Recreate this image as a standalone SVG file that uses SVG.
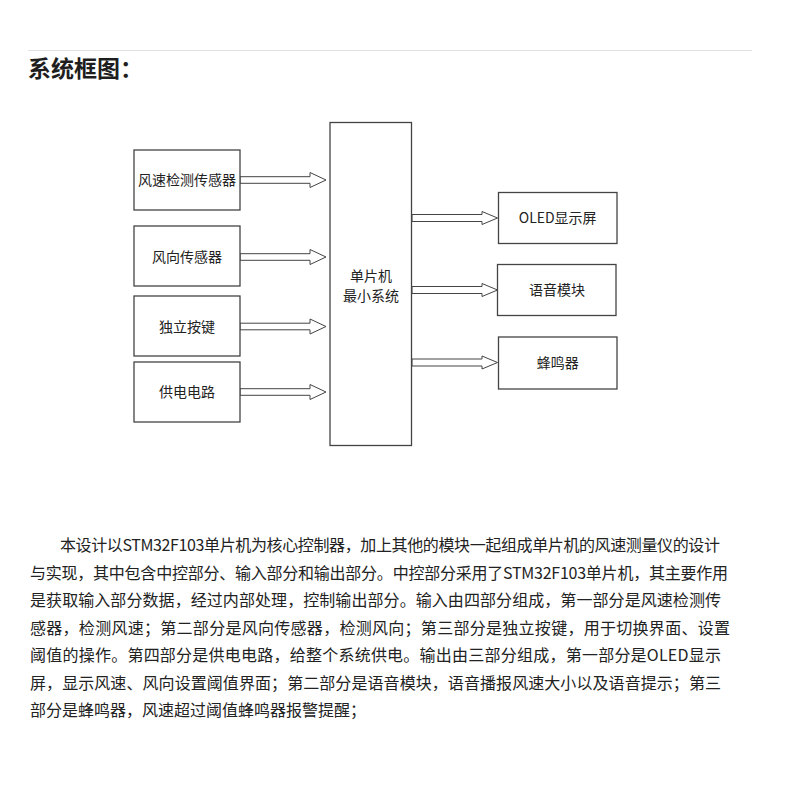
<svg xmlns="http://www.w3.org/2000/svg" width="800" height="800" viewBox="0 0 800 800">
<style>
.bg{fill:#ffffff}
.box{fill:#ffffff;stroke:#444444;stroke-width:1.3}
.lbl{font-family:"Noto Sans CJK SC","Noto Sans",sans-serif;font-size:14px;fill:#222222;text-anchor:middle}
.arr{fill:#ffffff;stroke:#444444;stroke-width:1}
.para{font-family:"Noto Sans CJK SC","Noto Sans",sans-serif;font-size:16px;fill:#222222}
.title{font-family:"Noto Sans CJK SC","Noto Sans",sans-serif;font-size:23px;font-weight:bold;fill:#1e1e1e}
</style>
<rect class="bg" x="0" y="0" width="800" height="800"/>
<line x1="28" y1="50.5" x2="752" y2="50.5" stroke="#e2e2e2" stroke-width="1"/>
<text class="title" x="28" y="77">系统框图：</text>

<g id="connectors">
  <polygon class="arr" points="240,176.7 310,176.7 310,172.5 326,180 310,187.5 310,183.3 240,183.3"/>
  <polygon class="arr" points="240,253.7 310,253.7 310,249.5 326,257 310,264.5 310,260.3 240,260.3"/>
  <polygon class="arr" points="240,323.2 310,323.2 310,319 326,326.5 310,334 310,329.8 240,329.8"/>
  <polygon class="arr" points="240,388.7 310,388.7 310,384.5 326,392 310,399.5 310,395.3 240,395.3"/>
  <polygon class="arr" points="412,214.5 482,214.5 482,211.5 497.5,218 482,224.5 482,221.5 412,221.5"/>
  <polygon class="arr" points="412,286.5 482,286.5 482,283.5 497.5,290 482,296.5 482,293.5 412,293.5"/>
  <polygon class="arr" points="412,359 482,359 482,356 497.5,362.5 482,369 482,366 412,366"/>
</g>

<g id="node-wind-speed">
  <rect class="box" x="134" y="150" width="106" height="60"/>
  <text class="lbl" x="187" y="185">风速检测传感器</text>
</g>
<g id="node-wind-dir">
  <rect class="box" x="134" y="226" width="106" height="60"/>
  <text class="lbl" x="187" y="262">风向传感器</text>
</g>
<g id="node-keys">
  <rect class="box" x="134" y="296" width="106" height="60"/>
  <text class="lbl" x="187" y="331.5">独立按键</text>
</g>
<g id="node-power">
  <rect class="box" x="134" y="362" width="106" height="60"/>
  <text class="lbl" x="187" y="397">供电电路</text>
</g>
<g id="node-mcu">
  <rect class="box" x="330" y="122.5" width="81.5" height="323"/>
  <text class="lbl" x="371" y="280.5">单片机</text>
  <text class="lbl" x="371" y="300.5">最小系统</text>
</g>
<g id="node-oled">
  <rect class="box" x="498.5" y="192.5" width="118.5" height="51"/>
  <text class="lbl" x="557.7" y="223">OLED显示屏</text>
</g>
<g id="node-voice">
  <rect class="box" x="497.5" y="264.5" width="118.5" height="51"/>
  <text class="lbl" x="557" y="295">语音模块</text>
</g>
<g id="node-buzzer">
  <rect class="box" x="498.5" y="337" width="118.5" height="52"/>
  <text class="lbl" x="557.7" y="367.5">蜂鸣器</text>
</g>

<g id="paragraph">
  <text class="para" x="60" y="551" textLength="660" lengthAdjust="spacing">本设计以STM32F103单片机为核心控制器，加上其他的模块一起组成单片机的风速测量仪的设计</text>
  <text class="para" x="30" y="578.5" textLength="698" lengthAdjust="spacing">与实现，其中包含中控部分、输入部分和输出部分。中控部分采用了STM32F103单片机，其主要作用</text>
  <text class="para" x="30" y="606" textLength="691" lengthAdjust="spacing">是获取输入部分数据，经过内部处理，控制输出部分。输入由四部分组成，第一部分是风速检测传</text>
  <text class="para" x="30" y="633.5" textLength="700" lengthAdjust="spacing">感器，检测风速；第二部分是风向传感器，检测风向；第三部分是独立按键，用于切换界面、设置</text>
  <text class="para" x="30" y="661" textLength="691" lengthAdjust="spacing">阈值的操作。第四部分是供电电路，给整个系统供电。输出由三部分组成，第一部分是OLED显示</text>
  <text class="para" x="30" y="688.5" textLength="691" lengthAdjust="spacing">屏，显示风速、风向设置阈值界面；第二部分是语音模块，语音播报风速大小以及语音提示；第三</text>
  <text class="para" x="30" y="716" textLength="336" lengthAdjust="spacing">部分是蜂鸣器，风速超过阈值蜂鸣器报警提醒；</text>
</g>
</svg>
